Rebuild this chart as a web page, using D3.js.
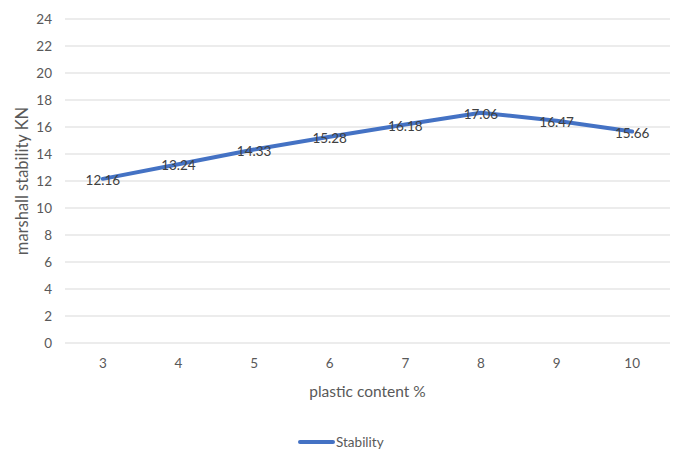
<!DOCTYPE html>
<html>
<head>
<meta charset="utf-8">
<script src="https://cdn.jsdelivr.net/npm/d3@7"></script>
<style>
  html, body { margin: 0; padding: 0; background: #fff; }
  svg { display: block; font-family: Lato, "Open Sans", sans-serif; }
</style>
</head>
<body>
<div id="chart"></div>
<script>
// Marshall stability against plastic content
const categories = ["3", "4", "5", "6", "7", "8", "9", "10"];
const stability = [12.16, 13.24, 14.33, 15.28, 16.18, 17.06, 16.47, 15.66];
const yTicks = [0, 2, 4, 6, 8, 10, 12, 14, 16, 18, 20, 22, 24];
const seriesName = "Stability";
const xTitle = "plastic content %";
const yTitle = "marshall stability KN";

const W = 680, H = 451;
const plot = { left: 65, right: 670, top: 19, bottom: 343 };

const svg = d3.select("#chart").append("svg")
  .attr("width", W).attr("height", H);

const x = d3.scaleBand().domain(categories).range([plot.left, plot.right]);
const y = d3.scaleLinear().domain([0, 24]).range([plot.bottom, plot.top]);

// horizontal gridlines
svg.append("g").selectAll("line").data(yTicks).join("line")
  .attr("x1", plot.left).attr("x2", plot.right)
  .attr("y1", d => y(d)).attr("y2", d => y(d))
  .attr("stroke", "#d9d9d9").attr("stroke-width", 1);

// y axis labels
const yAxis = svg.append("g")
  .attr("transform", `translate(${plot.left - 13},0)`)
  .call(d3.axisLeft(y).tickValues(yTicks).tickSize(0).tickPadding(0));
yAxis.select(".domain").remove();
yAxis.selectAll("text")
  .attr("fill", "#595959").attr("font-size", 13.5)
  .attr("font-family", "Lato, sans-serif");

// x axis labels
const xAxis = svg.append("g")
  .attr("transform", `translate(0,${plot.bottom + 15})`)
  .call(d3.axisBottom(x).tickSize(0).tickPadding(0));
xAxis.select(".domain").remove();
xAxis.selectAll("text")
  .attr("fill", "#595959").attr("font-size", 13.5)
  .attr("font-family", "Lato, sans-serif");

// axis titles
svg.append("text")
  .attr("x", (plot.left + plot.right) / 2).attr("y", 397)
  .attr("text-anchor", "middle")
  .attr("fill", "#595959").attr("font-size", 15.5)
  .text(xTitle);

svg.append("text")
  .attr("transform", `translate(28,${(plot.top + plot.bottom) / 2}) rotate(-90)`)
  .attr("text-anchor", "middle")
  .attr("fill", "#595959").attr("font-size", 16.5)
  .text(yTitle);

// series line
const line = d3.line()
  .x((d, i) => x(categories[i]) + x.bandwidth() / 2)
  .y(d => y(d));

svg.append("path")
  .datum(stability)
  .attr("d", line)
  .attr("fill", "none")
  .attr("stroke", "#4472c4")
  .attr("stroke-width", 4)
  .attr("stroke-linejoin", "round")
  .attr("stroke-linecap", "round");

// data labels
svg.append("g").selectAll("text").data(stability).join("text")
  .attr("x", (d, i) => x(categories[i]) + x.bandwidth() / 2)
  .attr("y", d => y(d) + 6)
  .attr("text-anchor", "middle")
  .attr("fill", "#404040").attr("font-size", 13.5)
  .text(d => d.toFixed(2));

// legend
const lg = svg.append("g").attr("transform", "translate(300,442)");
lg.append("line")
  .attr("x1", 0).attr("x2", 33).attr("y1", 0).attr("y2", 0)
  .attr("stroke", "#4472c4").attr("stroke-width", 4)
  .attr("stroke-linecap", "round");
lg.append("text")
  .attr("x", 36).attr("y", 5)
  .attr("fill", "#595959").attr("font-size", 13.5)
  .text(seriesName);
</script>
</body>
</html>
